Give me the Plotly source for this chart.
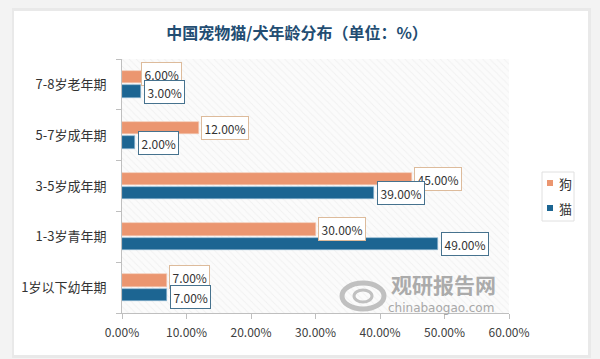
import plotly.graph_objects as go

# ---------------- data ----------------
categories = ["7-8岁老年期", "5-7岁成年期", "3-5岁成年期", "1-3岁青年期", "1岁以下幼年期"]  # top -> bottom
dog_values = [6.0, 12.0, 45.0, 30.0, 7.0]
cat_values = [3.0, 2.0, 39.0, 49.0, 7.0]
series_names = ["狗", "猫"]
x_ticks = [0, 10, 20, 30, 40, 50, 60]
title_text = "中国宠物猫/犬年龄分布（单位：%）"

# ---------------- style ----------------
DOG = "#EB9670"
CAT = "#1C6592"
DOG_BORDER = "#DDBB9B"
CAT_BORDER = "#46728E"
FONT = "Noto Sans CJK SC"
W, H = 600, 359
PL, PR, PT, PB = 122, 509, 59, 313  # plot area in px
dog_label_dx = {"7-8岁老年期": -22}  # label nudges (px)
dog_label_dy = {"7-8岁老年期": 3, "1岁以下幼年期": 3}
cat_label_dy = {"1岁以下幼年期": -2}


def px(x):
    return (x - PL) / (PR - PL)


def py(y):
    return (PB - y) / (PB - PT)


n = len(categories)
ypos = [n - 1 - i for i in range(n)]

fig = go.Figure()

# hatched plot-area background
fig.add_trace(go.Bar(
    y=[(n - 1) / 2], x=[x_ticks[-1]], width=[n], orientation="h",
    marker=dict(color="#fbfbfb", line=dict(width=0),
                pattern=dict(shape="\\", fgcolor="#e6e6e6", bgcolor="#fbfbfb", size=5, solidity=0.2)),
    showlegend=False, hoverinfo="skip"))

fig.add_trace(go.Bar(
    y=ypos, x=dog_values, orientation="h", name=series_names[0],
    width=0.245, offset=0.02,
    marker=dict(color=DOG, line=dict(width=0.6, color="#f4c9b3")), showlegend=False))
fig.add_trace(go.Bar(
    y=ypos, x=cat_values, orientation="h", name=series_names[1],
    width=0.245, offset=-0.265,
    marker=dict(color=CAT, line=dict(width=0.6, color="#8fb8d4")), showlegend=False))

annotations = []
for c, y, dv, cv in zip(categories, ypos, dog_values, cat_values):
    annotations.append(dict(
        x=dv, y=y + 0.145, xref="x", yref="y", text=f"{dv:.2f}%", showarrow=False,
        xanchor="left", yanchor="middle", xshift=2 + dog_label_dx.get(c, 0), yshift=dog_label_dy.get(c, 0),
        font=dict(family=FONT, size=12, color="#333333"),
        bgcolor="white", bordercolor=DOG_BORDER, borderwidth=1, borderpad=2.5))
    annotations.append(dict(
        x=cv, y=y - 0.145, xref="x", yref="y", text=f"{cv:.2f}%", showarrow=False,
        xanchor="left", yanchor="middle", xshift=3, yshift=cat_label_dy.get(c, 0),
        font=dict(family=FONT, size=12, color="#333333"),
        bgcolor="white", bordercolor=CAT_BORDER, borderwidth=1, borderpad=2.5))

# manual legend
leg_items = [(series_names[0], DOG, 183), (series_names[1], CAT, 208)]
for name, col, yy in leg_items:
    annotations.append(dict(
        x=px(557), y=py(yy), xref="paper", yref="paper", text=name, showarrow=False,
        xanchor="left", yanchor="middle", font=dict(family=FONT, size=13, color="#333333")))

# watermark
annotations.append(dict(
    x=px(443), y=py(300), xref="paper", yref="paper", text="<b>观研报告网</b>", showarrow=False,
    xanchor="center", yanchor="bottom", borderpad=0,
    font=dict(family=FONT, size=21, color="#ababab")))
annotations.append(dict(
    x=px(441), y=py(300), xref="paper", yref="paper", text="chinabaogao.com", showarrow=False,
    xanchor="center", yanchor="top", borderpad=0,
    font=dict(family="DejaVu Sans", size=12, color="#a8a8a8")))

shapes = [
    # card shadow and card
    dict(type="rect", xref="paper", yref="paper", x0=px(12), x1=px(591), y0=py(8), y1=py(358),
         fillcolor="#e9e9e9", line=dict(width=0), layer="below"),
    dict(type="rect", xref="paper", yref="paper", x0=px(14), x1=px(588), y0=py(11), y1=py(355),
         fillcolor="white", line=dict(width=0), layer="below"),
    # legend box
    dict(type="rect", xref="paper", yref="paper", x0=px(542), x1=px(574), y0=py(172), y1=py(221),
         fillcolor="white", line=dict(width=1, color="#e0e0e0")),
    # watermark logo
    dict(type="circle", xref="paper", yref="paper", x0=px(342), x1=px(384), y0=py(283), y1=py(309),
         line=dict(width=5, color="#c0c0c0")),
    dict(type="circle", xref="paper", yref="paper", x0=px(354), x1=px(372), y0=py(290), y1=py(302),
         line=dict(width=3, color="#c0c0c0")),
]
for name, col, yy in leg_items:
    shapes.append(dict(type="rect", xref="paper", yref="paper", x0=px(547), x1=px(553),
                       y0=py(yy + 3), y1=py(yy - 3), fillcolor=col, line=dict(width=0)))

fig.update_layout(
    width=W, height=H,
    margin=dict(l=PL, r=W - PR, t=PT, b=H - PB, pad=0),
    paper_bgcolor="#f3f3f3", plot_bgcolor="white",
    barmode="overlay", bargap=0,
    title=dict(text=title_text, x=297 / W, xanchor="center", y=1 - 33 / H, yanchor="middle",
               yref="container",
               font=dict(family=FONT, size=16, color="#234d72", weight="bold")),
    xaxis=dict(range=[x_ticks[0], x_ticks[-1]], tickvals=x_ticks,
               ticktext=[f"{v:.2f}%" for v in x_ticks],
               showline=True, linecolor="#bfbfbf", linewidth=1, ticks="outside", ticklen=5,
               tickcolor="#bfbfbf", showgrid=False, zeroline=False, ticklabelstandoff=4,
               tickfont=dict(family=FONT, size=12, color="#404040")),
    yaxis=dict(range=[-0.5, n - 0.5], tickvals=ypos, ticktext=categories,
               showline=True, linecolor="#bfbfbf", linewidth=1, ticks="", showgrid=False,
               zeroline=False, ticklabelstandoff=12,
               minor=dict(tick0=-0.5, dtick=1, ticks="outside", ticklen=5, tickcolor="#bfbfbf", showgrid=False),
               tickfont=dict(family=FONT, size=13, color="#333333")),
    annotations=annotations, shapes=shapes, showlegend=False,
)

fig.write_html("out.html")
